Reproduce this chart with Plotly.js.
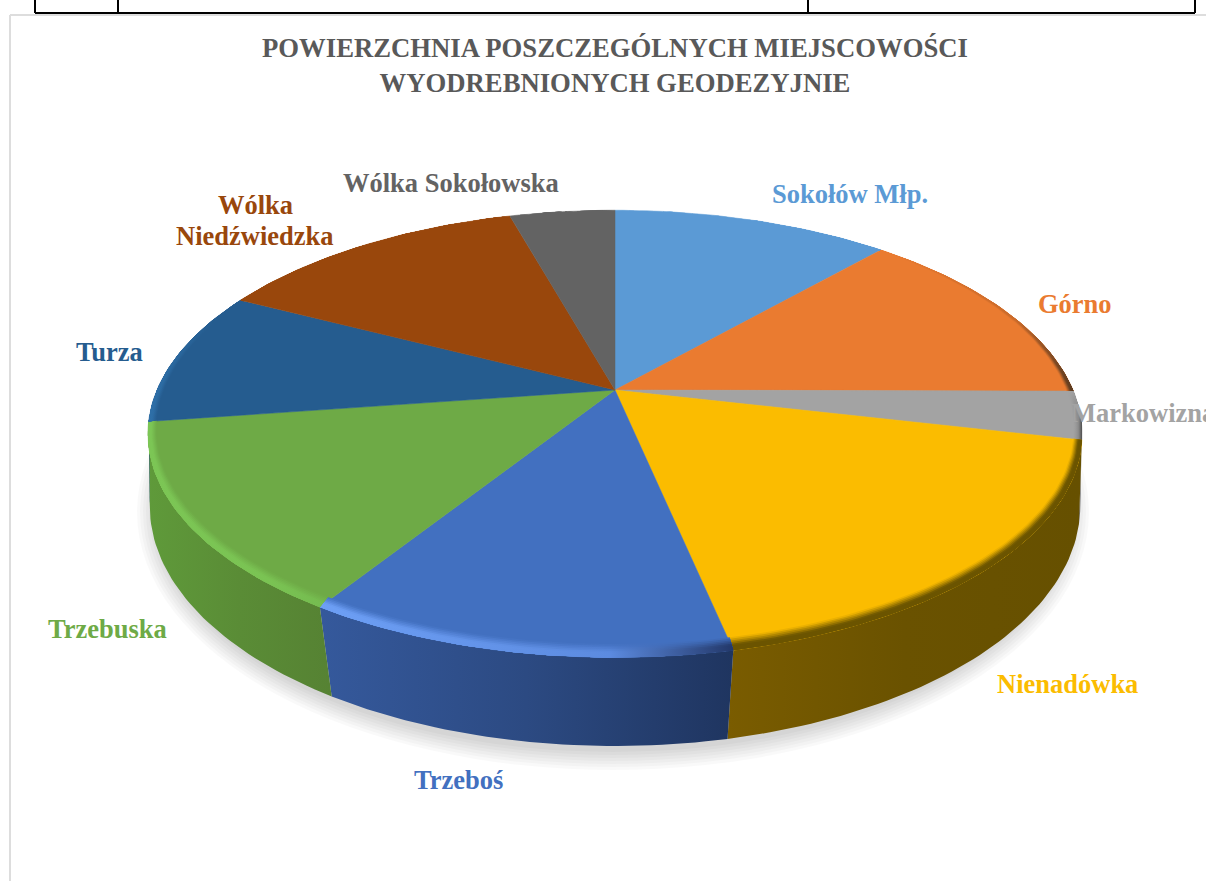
<!DOCTYPE html>
<html lang="pl">
<head>
<meta charset="utf-8">
<script src="https://cdn.plot.ly/plotly-3.0.1.min.js"></script>
<style>html,body{margin:0;padding:0;background:#fff;overflow:hidden}#chart{width:1206px;height:881px}</style>
</head>
<body>
<div id="chart"></div>
<script>
// Data (share of the area, %)
const categories = ['Sokołów Młp.', 'Górno', 'Markowizna', 'Nienadówka', 'Trzeboś', 'Trzebuska', 'Turza', 'Wólka Niedźwiedzka', 'Wólka Sokołowska'];
const shares = [11.6, 13.5, 3.5, 18.1, 12.4, 13.7, 9.8, 13.1, 4.4];
const labelText = ['Sokołów Młp.', 'Górno', 'Markowizna', 'Nienadówka', 'Trzeboś', 'Trzebuska', 'Turza', 'Wólka<br>Niedźwiedzka', 'Wólka Sokołowska'];

// Styles
const faceColors = ['#5b9ad5', '#ea7b30', '#a3a3a3', '#fbbc00', '#4270c0', '#6eaa46', '#255c8f', '#99470c', '#636363'];
const wallLeft   = ['#3f6f9b', '#8a4a1d', '#4a4a4a', '#7a5c00', '#35599c', '#5f9a3a', '#1c4a73', '#6e3209', '#444444'];
const wallMid    = ['#3f6f9b', '#8a4a1d', '#4a4a4a', '#6a5200', '#2c4a82', '#5a8c36', '#1c4a73', '#6e3209', '#444444'];
const wallRight  = ['#3f6f9b', '#8a4a1d', '#4a4a4a', '#665000', '#1f3560', '#568233', '#1c4a73', '#6e3209', '#444444'];
const edgeLeft   = ['#5b9ad5', '#ea7b30', '#a3a3a3', '#6b5400', '#6d9ff5', '#7cc655', '#2e6fa8', '#99470c', '#636363'];
const edgeMid    = ['#5b9ad5', '#c96a2a', '#8a8a8a', '#6b5400', '#5c8be0', '#7ac353', '#255c8f', '#99470c', '#636363'];
const edgeRight  = ['#5b9ad5', '#5a3a20', '#505050', '#6b5400', '#23386a', '#75bc50', '#255c8f', '#99470c', '#636363'];
const labelX = [850, 1075, 1069, 1067, 458, 107, 109, 255, 451];
const labelY = [194, 304, 413, 684, 780, 629, 352, 220, 183];
const labelAnchor = ['center', 'center', 'left', 'center', 'center', 'center', 'center', 'center', 'center'];
const labelSize = 26.5, labelLineGap = 31;

// Projection of the tilted pie on the page
const CX = 615, CY = 390, RX = 458, RY = 215, K = 0.196;
const BY = 470, BRX = 460, BRY = 234.6, BK = 0.15;
const rad = d => d * Math.PI / 180;
function rim(deg, t) {
  const u = Math.sin(rad(deg)), v = Math.cos(rad(deg)), w = 1 + K * v;
  const g = (1 - v) / 2;
  const fx = 1 - 0.03 * t * g, fy = 1 - 0.05 * t * g;
  return [CX + RX * fx * u / w, CY - RY * fy * v / w];
}
function base(deg) {
  const u = Math.sin(rad(deg)), v = Math.cos(rad(deg)), w = 1 + BK * v;
  return [CX + BRX * u / w, BY - BRY * v / w];
}
function arc(a, b) {
  const out = [], n = Math.max(2, Math.ceil((b - a) / 1.2));
  for (let i = 0; i <= n; i++) out.push(a + (b - a) * i / n);
  return out;
}
function hex(c) { return [1, 3, 5].map(i => parseInt(c.substr(i, 2), 16)); }
function mix(a, b, f) {
  const A = hex(a), B = hex(b);
  return 'rgb(' + A.map((x, i) => Math.round(x + (B[i] - x) * f)).join(',') + ')';
}

const total = shares.reduce((s, x) => s + x, 0);
const starts = [];
shares.reduce((s, x, i) => { starts[i] = s; return s + x / total * 360; }, 0);
const ends = starts.map((s, i) => s + shares[i] / total * 360);

const walls = [], faces = [], bands = [];
categories.forEach((name, i) => {
  const a = starts[i], b = ends[i];
  // side wall
  const wa = Math.max(a, 100), wb = Math.min(b, 263);
  if (wb > wa) {
    const angs = arc(wa, wb);
    const pts = angs.map(d => rim(d, 0)).concat(angs.slice().reverse().map(base));
    pts.push(pts[0]);
    walls.push({
      type: 'scatter', mode: 'lines', name: name + ' (bok)', showlegend: false, hoverinfo: 'skip',
      x: pts.map(p => p[0]), y: pts.map(p => p[1]),
      line: {width: 0}, fill: 'toself', fillcolor: wallMid[i],
      fillgradient: {type: 'horizontal', colorscale: [[0, wallLeft[i]], [0.5, wallMid[i]], [1, wallRight[i]]]}
    });
  }
  // top face
  const angs = arc(a, b);
  const pts = [[CX, CY]].concat(angs.map(d => rim(d, 0)));
  pts.push([CX, CY]);
  faces.push({
    type: 'scatter', mode: 'lines', name: name, showlegend: false,
    text: name + ': ' + shares[i] + '%', hoverinfo: 'text',
    x: pts.map(p => p[0]), y: pts.map(p => p[1]),
    line: {width: 0.5, color: faceColors[i]}, fill: 'toself', fillcolor: faceColors[i]
  });
  // rounded edge of the top face (painted inside out so no seams show)
  const steps = 8;
  for (let s = 0; s < steps; s++) {
    const t0 = s / steps, t1 = (s + 1) / steps;
    const f = Math.min(1, (t0 + t1) / 2 / 0.6);
    const bp = angs.map(d => rim(d, 0)).concat(angs.slice().reverse().map(d => rim(d, 1 - t0)));
    bp.push(bp[0]);
    bands.push({
      type: 'scatter', mode: 'lines', name: name + ' (krawędź)', showlegend: false, hoverinfo: 'skip',
      x: bp.map(p => p[0]), y: bp.map(p => p[1]),
      line: {width: 0}, fill: 'toself', fillcolor: mix(faceColors[i], edgeMid[i], f),
      fillgradient: {type: 'horizontal', colorscale: [
        [0, mix(faceColors[i], edgeLeft[i], f)],
        [0.7, mix(faceColors[i], edgeMid[i], f)],
        [1, mix(faceColors[i], edgeRight[i], f)]]}
    });
  }
});

// Soft shadow under the pie
const shapes = [];
for (let i = 0; i < 7; i++) {
  const a = 476 - i * 3, bb = 258 - i * 3;
  shapes.push({type: 'circle', layer: 'below', xref: 'x', yref: 'y', x0: 613 - a, x1: 613 + a, y0: 512 - bb, y1: 512 + bb,
    fillcolor: 'rgba(0,0,0,0.025)', line: {width: 0}});
}
// Table fragment and chart frame
const black = {color: '#000000', width: 2}, frame = {color: '#dddddd', width: 2};
[[35, 0, 35, 13], [118, 0, 118, 13], [808, 0, 808, 13], [1195, 0, 1195, 13], [35, 13, 1195, 13]].forEach(c =>
  shapes.push({type: 'line', xref: 'x', yref: 'y', x0: c[0], y0: c[1], x1: c[2], y1: c[3], line: black}));
[[10, 15, 10, 881], [10, 15, 1206, 15]].forEach(c =>
  shapes.push({type: 'line', layer: 'below', xref: 'x', yref: 'y', x0: c[0], y0: c[1], x1: c[2], y1: c[3], line: frame}));

const annotations = [];
labelText.forEach((t, i) => {
  const lines = t.split('<br>');
  lines.forEach((ln, j) => annotations.push({
    text: '<b>' + ln + '</b>', x: labelX[i], y: labelY[i] + (j - (lines.length - 1) / 2) * labelLineGap, xref: 'x', yref: 'y',
    xanchor: labelAnchor[i], yanchor: 'middle', showarrow: false, align: 'center',
    font: {family: '"Liberation Serif", serif', size: labelSize, color: faceColors[i]}
  }));
});

const layout = {
  width: 1206, height: 881, margin: {l: 0, r: 0, t: 0, b: 0},
  paper_bgcolor: '#ffffff', plot_bgcolor: '#ffffff', showlegend: false,
  title: {text: '<b>POWIERZCHNIA POSZCZEGÓLNYCH MIEJSCOWOŚCI<br>WYODREBNIONYCH GEODEZYJNIE</b>',
    x: 615 / 1206, xanchor: 'center', y: 1 - 57 / 881, yanchor: 'middle',
    font: {family: '"Liberation Serif", serif', size: 26.7, color: '#595959'}},
  xaxis: {range: [0, 1206], visible: false, fixedrange: true},
  yaxis: {range: [881, 0], visible: false, fixedrange: true},
  shapes, annotations
};
Plotly.newPlot('chart', walls.concat(faces, bands), layout, {displayModeBar: false, staticPlot: true});
</script>
</body>
</html>
